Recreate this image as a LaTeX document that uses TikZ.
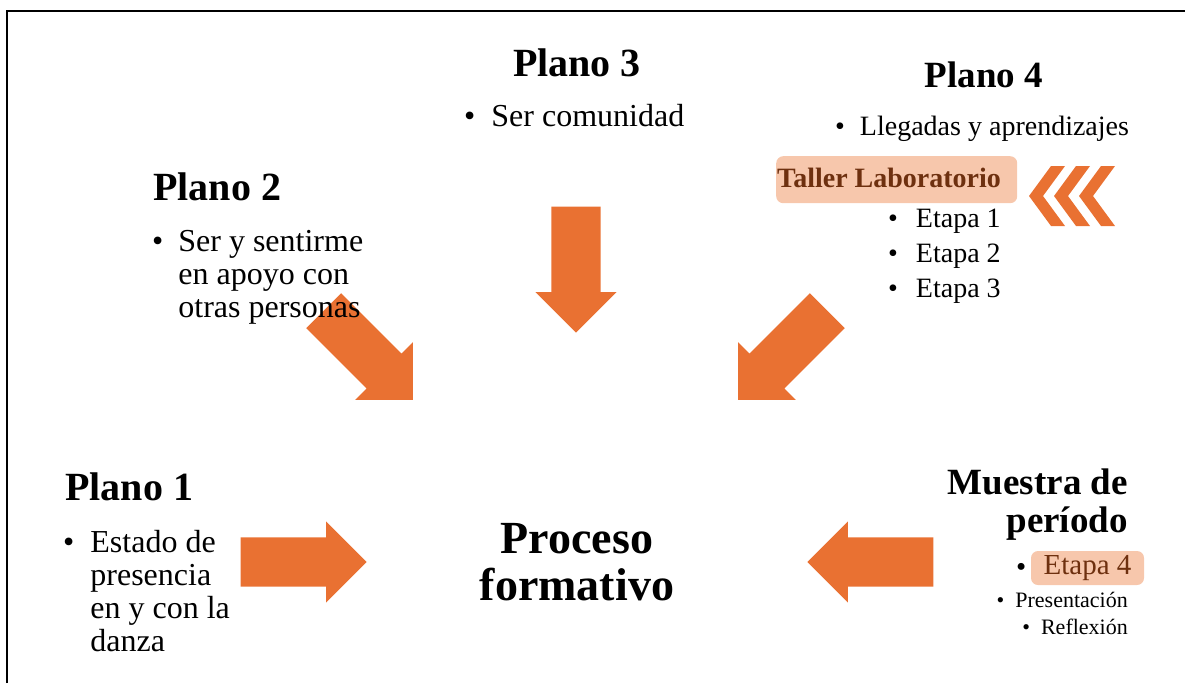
\documentclass[tikz,border=0pt]{standalone}
\usepackage{fontspec}
\setmainfont{Liberation Serif}
\usepackage{tikz}
\usetikzlibrary{shapes.arrows}

\definecolor{naranja}{RGB}{233,113,50}
\definecolor{melocoton}{RGB}{247,199,172}
\definecolor{cafe}{RGB}{110,48,15}

\newcommand{\letra}[2]{\fontsize{#1}{#2}\selectfont}
\newcommand{\vineta}[2]{\textbullet\hspace{#1}\begin{tabular}[t]{@{}l@{}}#2\end{tabular}}

\begin{document}
\begin{tikzpicture}[x=1pt,y=-1pt]
	\useasboundingbox (0,0) rectangle (1185,683);
	\draw[line width=2pt] (7,683) -- (7,11) -- (1185,11);

	% flechas hacia el centro
	\begin{scope}[every node/.style={single arrow,fill=naranja,inner sep=0pt,
	              text height=24.5pt,text depth=24.5pt,
	              minimum height=126pt,minimum width=81pt,
	              single arrow head extend=16pt,anchor=tip}]
	    \node[rotate=0] (f1) at (367,562) {};
	    \node[rotate=-45] (f2) at (413,400) {};
	    \node[rotate=-90] (f3) at (576,333) {};
	    \node[rotate=-135] (f4) at (738,400) {};
	    \node[rotate=180] (f5) at (807,562) {};
	\end{scope}

	\foreach \x in {1029,1054,1079}
	    \fill[naranja] (\x,196) -- (\x+22,166) -- (\x+36,166) -- (\x+14,196)
	                   -- (\x+36,226) -- (\x+22,226) -- cycle;

	% titulos
	\begin{scope}[every node/.style={inner sep=0pt,font=\letra{40}{40}\bfseries}]
	    \node[anchor=base] (p3) at (577,76) {Plano 3};
	    \node[anchor=base west] (p2) at (153,200) {Plano 2};
	    \node[anchor=base west] (p1) at (65,500) {Plano 1};
	    \node[anchor=base,font=\letra{37}{37}\bfseries] (p4) at (984,87) {Plano 4};
	    \node[anchor=base east,font=\letra{37}{38}\bfseries] (mp) at (1128,494)
	        {\begin{tabular}[t]{@{}r@{}}Muestra de\\período\end{tabular}};
	    \node[anchor=base,font=\letra{46}{47}\bfseries] (pf) at (577,553)
	        {\begin{tabular}[t]{@{}c@{}}Proceso\\formativo\end{tabular}};
	\end{scope}

	% cajas resaltadas
	\begin{scope}[every node/.style={fill=melocoton,rounded corners=7pt,inner sep=0pt}]
	    \node[anchor=north west,minimum width=241pt,minimum height=47pt] (tl) at (776,156) {};
	    \node[minimum width=113pt,minimum height=34pt,text=cafe,font=\letra{29}{29}] (e4) at (1087.5,568) {Etapa 4};
	\end{scope}

	% vinetas
	\begin{scope}[every node/.style={inner sep=0pt,anchor=base west,font=\letra{32}{33}}]
	    \node (s3) at (464,126) {\vineta{16pt}{Ser comunidad}};
	    \node (s2) at (152,251) {\vineta{15pt}{Ser y sentirme\\en apoyo con\\otras personas}};
	    \node (s1) at (63,552) {\vineta{16pt}{Estado de\\presencia\\en y con la\\danza}};
	    \node[font=\letra{28}{28}] (s4) at (835,135) {\vineta{15pt}{Llegadas y aprendizajes}};
	    \node[font=\letra{28}{28}\bfseries,text=cafe] (tlt) at (777,187) {Taller Laboratorio};
	    \node[font=\letra{28}{35}] (et) at (888,227)
	        {\begin{tabular}[t]{@{}l@{\hspace{18pt}}l@{}}\textbullet & Etapa 1\\ \textbullet & Etapa 2\\ \textbullet & Etapa 3\end{tabular}};
	    \node[font=\letra{29}{29}] (b4) at (1016,576) {\textbullet};
	    \node[anchor=base east,font=\letra{22}{22}] (pr) at (1128,607) {\textbullet\hspace{11pt}Presentación};
	    \node[anchor=base east,font=\letra{22}{22}] (rf) at (1128,634) {\textbullet\hspace{11pt}Reflexión};
	\end{scope}
\end{tikzpicture}
\end{document}
